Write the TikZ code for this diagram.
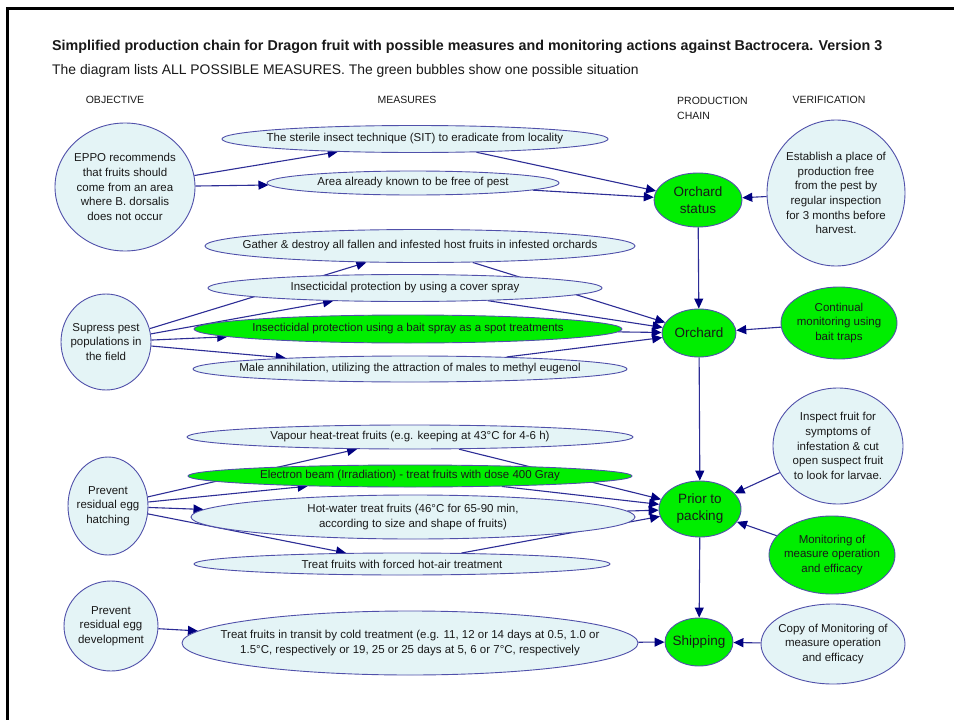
\documentclass[tikz,border=0pt]{standalone}
\usepackage{fontspec}
\setmainfont{Liberation Sans}
\usetikzlibrary{shapes.geometric,arrows.meta}

\definecolor{paleblue}{RGB}{228,244,246}
\definecolor{vivid}{RGB}{0,238,0}
\definecolor{rim}{RGB}{80,80,170}
\definecolor{wire}{RGB}{45,45,150}
\definecolor{tipnavy}{RGB}{0,0,128}
\definecolor{ink}{RGB}{25,25,25}

\pgfdeclarelayer{paper}
\pgfdeclarelayer{wires}
\pgfsetlayers{paper,wires,main}

\tikzset{
  bubble/.style={ellipse, draw=rim, line width=0.9pt, inner sep=0pt},
  pale/.style={bubble, fill=paleblue},
  lit/.style={bubble, fill=vivid},
  txt/.style={font=\fontsize{11.5}{14.7}\selectfont, align=center, text=ink, inner sep=0pt},
  big/.style={font=\fontsize{13.5}{17}\selectfont, align=center, text=ink, inner sep=0pt},
  head/.style={font=\fontsize{10.5}{15}\selectfont, text=ink, inner sep=0pt, align=left},
  wire/.style={draw=wire, line width=1.1pt, -{Triangle[length=10pt,width=9pt,color=tipnavy]}},
}

\begin{document}
\begin{tikzpicture}[x=1pt,y=-1pt]
\useasboundingbox (0,0) rectangle (954,720);

% page and frame
\begin{pgfonlayer}{paper}
  \fill[white] (0,0) rectangle (954,720);
  \draw[black, line width=2.5pt] (7.5,720) -- (7.5,8.5) -- (954,8.5);
\end{pgfonlayer}

% titles and column headings
\node[anchor=west, inner sep=0pt, text=ink, font=\bfseries\fontsize{14.3}{17}\selectfont] (title) at (52,47)
  {Simplified production chain for Dragon fruit with possible measures and monitoring actions against Bactrocera. Version 3};
\node[anchor=west, inner sep=0pt, text=ink, font=\fontsize{13.9}{16}\selectfont] (subtitle) at (52,71)
  {The diagram lists ALL POSSIBLE MEASURES. The green bubbles show one possible situation};
\node[head] (h-obj) at (115,100) {OBJECTIVE};
\node[head] (h-mea) at (407,100) {MEASURES};
\node[head, anchor=north west] (h-pro) at (677,97) {PRODUCTION\\CHAIN};
\node[head] (h-ver) at (829,100) {VERIFICATION};

% objectives
\node[pale, minimum width=140pt, minimum height=128pt] (eppo) at (125,187) {};
\node[txt] (eppo-t) at (eppo) {EPPO recommends\\that fruits should\\come from an area\\where B. dorsalis\\does not occur};
\node[pale, minimum width=90pt, minimum height=96pt] (sup) at (106,342) {};
\node[txt] (sup-t) at (sup) {Supress pest\\populations in\\the field};
\node[pale, minimum width=80pt, minimum height=98pt] (hatch) at (108,506) {};
\node[txt] (hatch-t) at (hatch) {Prevent\\residual egg\\hatching};
\node[pale, minimum width=94pt, minimum height=90pt] (dev) at (111,626) {};
\node[txt] (dev-t) at (dev) {Prevent\\residual egg\\development};

% measures
\node[pale, minimum width=386pt, minimum height=27pt] (sit) at (415,139) {};
\node[txt] (sit-t) at (sit) {The sterile insect technique (SIT) to eradicate from locality};
\node[pale, minimum width=292pt, minimum height=24pt] (area) at (413,183) {};
\node[txt] (area-t) at (area) {Area already known to be free of pest};
\node[pale, minimum width=430pt, minimum height=33pt] (gather) at (420,246) {};
\node[txt] (gather-t) at (gather) {Gather \& destroy all fallen and infested host fruits in infested orchards};
\node[pale, minimum width=394pt, minimum height=27pt] (cover) at (405,288) {};
\node[txt] (cover-t) at (cover) {Insecticidal protection by using a cover spray};
\node[lit, minimum width=428pt, minimum height=28pt] (bait) at (408,329) {};
\node[txt] (bait-t) at (bait) {Insecticidal protection using a bait spray as a spot treatments};
\node[pale, minimum width=434pt, minimum height=26pt] (male) at (410,369) {};
\node[txt] (male-t) at (male) {Male annihilation, utilizing the attraction of males to methyl eugenol};
\node[pale, minimum width=446pt, minimum height=24pt] (vapour) at (410,437) {};
\node[txt] (vapour-t) at (vapour) {Vapour heat-treat fruits (e.g. keeping at 43°C for 4-6 h)};
\node[lit, minimum width=444pt, minimum height=22pt] (beam) at (410,476) {};
\node[txt] (beam-t) at (beam) {Electron beam (Irradiation) - treat fruits with dose 400 Gray};
\node[pale, minimum width=444pt, minimum height=44pt] (hotw) at (413,517) {};
\node[txt] (hotw-t) at (hotw) {Hot-water treat fruits (46°C for 65-90 min,\\according to size and shape of fruits)};
\node[pale, minimum width=416pt, minimum height=22pt] (hotair) at (402,564) {};
\node[txt] (hotair-t) at (hotair) {Treat fruits with forced hot-air treatment};
\node[pale, minimum width=456pt, minimum height=64pt] (cold) at (410,643) {};
\node[txt] (cold-t) at (cold) {Treat fruits in transit by cold treatment (e.g. 11, 12 or 14 days at 0.5, 1.0 or\\1.5°C, respectively or 19, 25 or 25 days at 5, 6 or 7°C, respectively};

% production chain
\node[lit, minimum width=88pt, minimum height=54pt] (ostat) at (698,200) {};
\node[big] (ostat-t) at (ostat) {Orchard\\status};
\node[lit, minimum width=74pt, minimum height=48pt] (orch) at (699,333) {};
\node[big] (orch-t) at (orch) {Orchard};
\node[lit, minimum width=82pt, minimum height=56pt] (prior) at (700,509) {};
\node[big] (prior-t) at (prior) {Prior to\\packing};
\node[lit, minimum width=68pt, minimum height=48pt] (ship) at (699,642) {};
\node[big] (ship-t) at (ship) {Shipping};

% verification
\node[pale, minimum width=138pt, minimum height=146pt] (estab) at (836,193) {};
\node[txt] (estab-t) at (estab) {Establish a place of\\production free\\from the pest by\\regular inspection\\for 3 months before\\harvest.};
\node[lit, minimum width=116pt, minimum height=72pt] (cont) at (839,323) {};
\node[txt] (cont-t) at (cont) {Continual\\monitoring using\\bait traps};
\node[pale, minimum width=130pt, minimum height=116pt] (insp) at (838,446) {};
\node[txt] (insp-t) at (insp) {Inspect fruit for\\symptoms of\\infestation \& cut\\open suspect fruit\\to look for larvae.};
\node[lit, minimum width=126pt, minimum height=78pt] (moni) at (832,555) {};
\node[txt] (moni-t) at (moni) {Monitoring of\\measure operation\\and efficacy};
\node[pale, minimum width=144pt, minimum height=80pt] (copy) at (833,644) {};
\node[txt] (copy-t) at (copy) {Copy of Monitoring of\\measure operation\\and efficacy};

% connectors run beneath the bubbles
\begin{pgfonlayer}{wires}
  \draw[wire] (eppo) -- (sit);
  \draw[wire] (eppo) -- (area);
  \draw[wire] (sit) -- (ostat);
  \draw[wire] (area) -- (ostat);
  \draw[wire] (estab) -- (ostat);
  \draw[wire] (ostat) -- (orch);

  \draw[wire] (sup) -- (gather);
  \draw[wire] (sup) -- (cover);
  \draw[wire] (sup) -- (bait);
  \draw[wire] (sup) -- (male);
  \draw[wire] (gather) -- (orch);
  \draw[wire] (cover) -- (orch);
  \draw[wire] (bait) -- (orch);
  \draw[wire] (male) -- (orch);
  \draw[wire] (cont) -- (orch);
  \draw[wire] (orch) -- (prior);

  \draw[wire] (hatch) -- (vapour);
  \draw[wire] (hatch) -- (beam);
  \draw[wire] (hatch) -- (hotw);
  \draw[wire] (hatch) -- (hotair);
  \draw[wire] (vapour) -- (prior);
  \draw[wire] (beam) -- (prior);
  \draw[wire] (hotw) -- (prior);
  \draw[wire] (hotair) -- (prior);
  \draw[wire] (insp) -- (prior);
  \draw[wire] (moni) -- (prior);
  \draw[wire] (prior) -- (ship);

  \draw[wire] (dev) -- (cold);
  \draw[wire] (cold) -- (ship);
  \draw[wire] (copy) -- (ship);
\end{pgfonlayer}
\end{tikzpicture}
\end{document}
